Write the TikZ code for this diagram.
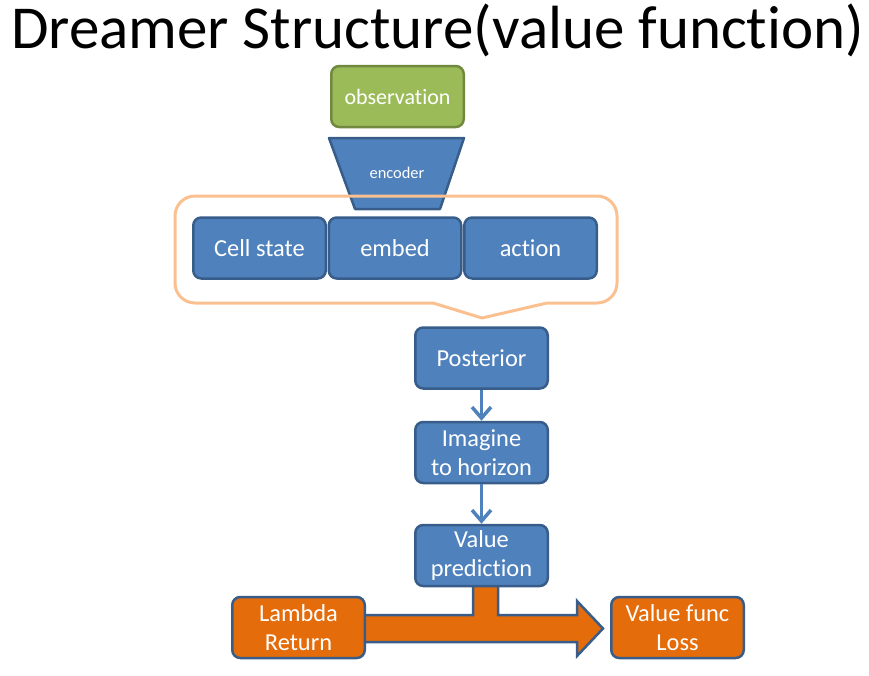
\documentclass[tikz,border=0pt]{standalone}
\usepackage{fontspec}
\setmainfont{Carlito}[RawFeature={-liga;-clig;-calt;-dlig}]
\usetikzlibrary{arrows.meta}
\pgfdeclarelayer{bg}
\pgfsetlayers{bg,main}
\definecolor{boxblue}{HTML}{4F81BD}
\definecolor{edgeblue}{HTML}{385D8A}
\definecolor{obsgreen}{HTML}{9BBB59}
\definecolor{obsedge}{HTML}{71893F}
\definecolor{lossorange}{HTML}{E46C0A}
\definecolor{calloutpeach}{HTML}{FAC090}

\begin{document}
\begin{tikzpicture}[x=1pt, y=-1pt,
  block/.style={draw=edgeblue, fill=boxblue, line width=2.5pt, rounded corners=8pt,
    text=white, align=center, inner sep=0pt, minimum width=132.5pt, minimum height=61pt,
    font=\fontsize{24.4}{29.5}\selectfont},
  lossblock/.style={block, fill=lossorange},
  flow/.style={draw=boxblue, line width=3.5pt, -{Straight Barb[length=11pt,width=19pt]}}]
  \useasboundingbox (0,0) rectangle (869,675);

  \node (title) [anchor=base west, inner sep=0pt, font=\fontsize{61}{61}\selectfont] at (11,48) {Dreamer Structure(value function)};

  \node (obs) [block, fill=obsgreen, draw=obsedge, font=\fontsize{22}{26}\selectfont] at (397.5,96.5) {observation};
  \node (enc) [text=white, font=\fontsize{16.4}{19}\selectfont] at (397,173) {encoder};

    \node (cell) [block] at (259.5,248) {Cell state};
    \node (emb) [block] at (395,248) {embed};
    \node (act) [block] at (530.5,248) {action};

  \node (post) [block] at (481.5,358) {Posterior};
  \node (imag) [block] at (481.5,452.5) {Imagine\\to horizon};
  \node (valp) [block] at (481.5,555.5) {Value\\prediction};

  \node (lam) [lossblock] at (298.5,627.5) {Lambda\\Return};
  \node (loss) [lossblock] at (677.5,627.5) {Value func\\Loss};

  \begin{pgfonlayer}{bg}
	  \draw [draw=edgeblue, fill=boxblue, line width=2.5pt, line join=round] (329,138) -- (464,138) -- (440,209) -- (355,209) -- cycle;
	  \draw [draw=calloutpeach, line width=3pt, line join=round] (433,303) -- (482,318) -- (547,303) -- (597,303)
	    arc [start angle=90, end angle=0, radius=20] -- (617,216)
	    arc [start angle=0, end angle=-90, radius=20] -- (195,196)
	    arc [start angle=-90, end angle=-180, radius=20] -- (175,283)
	    arc [start angle=180, end angle=90, radius=20] -- cycle;
	  \draw [draw=edgeblue, fill=lossorange, line width=2.5pt] (360,615) -- (473,615) -- (473,585) -- (498,585) -- (498,615) -- (577,615) -- (577,601) -- (603,628.5) -- (577,656) -- (577,642) -- (360,642) -- cycle;
  \end{pgfonlayer}

  \draw [flow] (post) -- (imag);
  \draw [flow] (imag) -- (valp);
\end{tikzpicture}
\end{document}
